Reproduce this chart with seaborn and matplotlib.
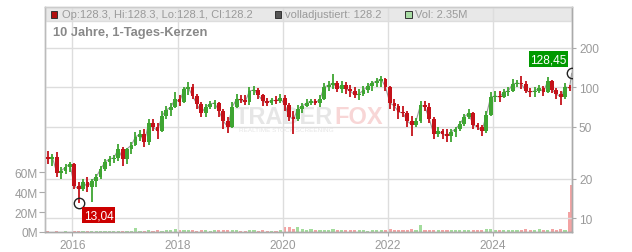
import numpy as np
import pandas as pd
import matplotlib
matplotlib.use("Agg")
import matplotlib.pyplot as plt
import seaborn as sns
from matplotlib.patches import Rectangle
from matplotlib.ticker import FixedLocator, NullLocator, FixedFormatter

# ---------------- data (monthly candles) ----------------
months = [d.strftime("%Y-%m-%d") for d in
          pd.date_range("2015-07-01", periods=120, freq="MS") + pd.Timedelta(days=14)] + ["2025-06-30"]

open_ = [29.4, 28.4, 29.4, 22.2, 23.0, 24.6, 26.0, 17.6, 16.7, 18.9,
         17.3, 19.3, 20.7, 23.8, 26.9, 28.4, 28.9, 33.8, 28.4, 33.8,
         36.3, 41.8, 44.0, 38.2, 53.4, 49.8, 46.4, 60.4, 67.1, 70.7,
         81.4, 77.2, 97.1, 100.5, 85.8, 74.6, 63.7, 70.7, 74.6, 75.9,
         65.9, 55.3, 49.8, 70.7, 81.4, 80.0, 77.2, 93.7, 95.4, 87.3,
         78.6, 75.9, 80.0, 78.6, 82.9, 73.3, 59.3, 57.3, 68.3, 72.0,
         75.9, 78.6, 75.9, 81.4, 100.5, 104.1, 107.8, 97.1, 104.1, 97.1,
         93.7, 87.3, 88.9, 95.4, 102.3, 107.8, 111.7, 115.7, 100.5, 75.9,
         72.0, 64.8, 63.7, 55.3, 51.6, 55.3, 73.3, 70.7, 57.3, 44.0,
         46.4, 44.0, 42.5, 45.6, 48.1, 52.5, 59.3, 63.7, 51.6, 49.8,
         46.4, 61.5, 84.3, 85.8, 84.3, 92.1, 93.7, 106.0, 107.8, 106.0,
         93.7, 92.1, 93.7, 98.8, 92.1, 111.7, 95.4, 88.9, 84.3, 100.5,
         128.3]
high = [32.7, 31.0, 32.1, 24.6, 26.0, 26.9, 26.5, 18.9, 20.0, 20.7,
        20.0, 21.8, 25.1, 28.4, 29.9, 30.4, 36.9, 35.0, 34.5, 38.2,
        45.6, 47.2, 48.1, 57.3, 57.3, 53.4, 65.9, 72.0, 75.9, 92.1,
        87.3, 100.5, 109.8, 106.0, 88.9, 77.2, 74.6, 78.6, 80.0, 77.2,
        68.3, 59.3, 77.2, 88.9, 87.3, 87.3, 100.5, 102.3, 99.5, 88.9,
        82.9, 82.9, 85.8, 88.9, 87.3, 75.9, 65.9, 73.3, 75.9, 81.4,
        81.4, 81.4, 87.3, 107.8, 111.7, 126.3, 111.7, 111.7, 109.0, 104.1,
        100.5, 97.1, 102.3, 107.8, 111.7, 117.7, 122.0, 117.7, 102.0, 81.4,
        74.6, 72.0, 65.9, 60.4, 58.3, 78.6, 78.6, 75.9, 59.3, 49.8,
        48.1, 48.1, 48.1, 49.8, 55.3, 62.6, 68.3, 65.0, 53.4, 51.6,
        65.9, 92.1, 93.7, 93.7, 97.1, 100.5, 115.7, 113.7, 122.0, 111.7,
        98.8, 100.5, 104.1, 102.3, 119.8, 113.0, 98.8, 93.7, 107.8, 104.1,
        128.3]
low = [26.0, 25.1, 20.7, 20.0, 21.8, 22.6, 16.7, 13.04, 16.2, 15.9,
       13.3, 17.3, 20.0, 23.0, 25.1, 26.4, 27.4, 25.1, 26.0, 31.0,
       35.6, 38.9, 35.0, 36.3, 46.4, 40.3, 45.6, 57.3, 60.4, 69.5,
       72.0, 75.9, 87.3, 81.4, 68.3, 59.3, 59.3, 68.3, 68.3, 59.3,
       48.1, 44.8, 48.9, 69.5, 75.9, 73.3, 73.3, 87.3, 81.4, 72.0,
       72.0, 73.3, 74.6, 75.9, 65.9, 55.3, 44.0, 55.3, 63.7, 70.7,
       73.3, 73.3, 70.7, 80.0, 93.7, 97.1, 92.1, 90.5, 88.9, 84.3,
       82.9, 80.0, 85.8, 90.5, 93.7, 100.5, 100.5, 93.7, 68.3, 65.9,
       57.3, 59.3, 49.8, 42.5, 49.8, 53.4, 65.9, 53.4, 40.3, 41.8,
       40.3, 38.2, 38.2, 41.8, 46.4, 50.7, 57.3, 48.1, 47.2, 42.5,
       44.8, 60.5, 77.2, 77.2, 83.0, 85.8, 92.5, 100.5, 97.1, 90.5,
       84.3, 84.3, 90.5, 85.8, 90.5, 90.5, 81.4, 73.3, 81.4, 93.7,
       128.1]
close = [28.4, 29.4, 22.2, 23.0, 24.6, 26.0, 17.6, 16.7, 18.9, 17.3,
         19.3, 20.7, 23.8, 26.9, 28.4, 28.9, 33.8, 28.4, 33.8, 36.3,
         41.8, 44.0, 38.2, 53.4, 49.8, 46.4, 60.4, 67.1, 70.7, 81.4,
         77.2, 97.1, 100.5, 85.8, 74.6, 63.7, 70.7, 74.6, 75.9, 65.9,
         55.3, 49.8, 70.7, 81.4, 80.0, 77.2, 93.7, 95.4, 87.3, 78.6,
         75.9, 80.0, 78.6, 82.9, 73.3, 59.3, 57.3, 68.3, 72.0, 75.9,
         78.6, 75.9, 81.4, 100.5, 104.1, 107.8, 97.1, 104.1, 97.1, 93.7,
         87.3, 88.9, 95.4, 102.3, 107.8, 111.7, 115.7, 100.5, 75.9, 72.0,
         64.8, 63.7, 55.3, 51.6, 55.3, 73.3, 70.7, 57.3, 44.0, 46.4,
         44.0, 42.5, 45.6, 48.1, 52.5, 59.3, 63.7, 51.6, 49.8, 46.4,
         61.5, 84.3, 85.8, 84.3, 92.1, 93.7, 106.0, 107.8, 106.0, 93.7,
         92.1, 93.7, 98.8, 92.1, 111.7, 95.4, 88.9, 84.3, 100.5, 98.8,
         128.2]
volume_m = [0.6, 0.5, 0.8, 0.5, 0.6, 0.5, 0.9, 1.2, 0.8, 0.6, 0.7, 0.6,
            0.8, 1.0, 0.9, 1.2, 1.5, 1.1, 1.3, 1.2, 4.0, 1.5, 1.3, 2.0,
            1.4, 1.6, 1.5, 1.8, 1.6, 3.2, 1.7, 2.2, 1.8, 1.6, 1.5, 1.7,
            1.6, 1.5, 1.7, 1.9, 2.2, 2.5, 2.0, 1.6, 1.5, 1.4, 1.6, 1.7,
            1.5, 1.6, 1.4, 1.5, 1.4, 1.6, 4.6, 5.2, 3.5, 4.8, 2.6, 2.4,
            3.0, 2.0, 1.8, 2.5, 2.2, 3.0, 2.0, 1.8, 1.6, 1.7, 1.6, 2.5,
            1.6, 1.5, 1.7, 1.8, 1.6, 1.9, 2.8, 2.2, 2.0, 1.8, 2.4, 3.5,
            2.2, 7.0, 2.4, 2.0, 1.8, 1.9, 2.0, 2.2, 1.8, 1.9, 2.0, 2.5,
            2.2, 1.8, 1.7, 2.0, 3.2, 2.6, 2.2, 2.0, 1.9, 2.1, 2.0, 1.9,
            2.0, 2.8, 2.3, 2.0, 2.6, 2.2, 2.4, 3.0, 2.5, 2.8, 2.4, 20.0,
            47.0]

year_ticks = [2016, 2018, 2020, 2022, 2024]
price_ticks = [10, 20, 50, 100, 200]
price_tick_labels = ["10", "20", "50", "100", "200"]
vol_ticks = [0, 20, 40, 60]
vol_tick_labels = ["0M", "20M", "40M", "60M"]

title = "10 Jahre, 1-Tages-Kerzen"
header_ohlc = "Op:128.3, Hi:128.3, Lo:128.1, Cl:128.2"
header_adj = "volladjustiert: 128.2"
header_vol = "Vol: 2.35M"
low_label = "13,04"
last_label = "128,45"
last_price = 128.45

# ---------------- figure ----------------
sns.set_style("white")
plt.rcParams["font.family"] = ["Liberation Sans", "DejaVu Sans"]

W, H = 632, 253
fig = plt.figure(figsize=(W / 100, H / 100), dpi=100)
L_, R_, T_, B_ = 45, 572, 8, 233
ax_v = fig.add_axes([L_ / W, 1 - B_ / H, (R_ - L_) / W, (B_ - T_) / H])
ax_p = ax_v.twinx()

dates = pd.to_datetime(months)
xs = np.array([d.year + (d.dayofyear - 0.5) / 365.25 for d in dates])
o = np.array(open_); h = np.array(high); l = np.array(low); c = np.array(close)
up = c >= o
GREEN, RED = "#3ea532", "#c4121a"
cols = np.where(up, GREEN, RED)

# volume on left axis
vcols = np.where(up, "#a3dc9c", "#f3a3a3")
ax_v.bar(xs, volume_m, width=0.06, color=vcols, linewidth=0, zorder=2)
ax_v.set_ylim(0, B_ - T_)
ax_v.set_xlim(2016 - 27.3 / 52.6, 2016 + (R_ - 72.3) / 52.6)

# header band
ax_v.add_patch(Rectangle((0, (B_ - 22) / (B_ - T_)), 1, 1 - (B_ - 22) / (B_ - T_),
                         transform=ax_v.transAxes, color="#e8e8e8", zorder=0, lw=0))

# price on right log axis
ax_p.set_yscale("log")
ax_p.set_ylim(10 ** (1 + (219.3 - B_) / 131), 10 ** (1 + (219.3 - T_) / 131))

sns.lineplot(x=xs, y=c, ax=ax_p, color="#999999", lw=0.8, zorder=2)
ax_p.vlines(xs, l, h, colors=cols, lw=1.3, zorder=3)
body_lo = np.minimum(o, c)
body_h = np.maximum(np.abs(c - o), body_lo * 0.01)
ax_p.bar(xs, body_h, bottom=body_lo, width=0.072, color=cols, linewidth=0, zorder=4)

# grid
for yr in year_ticks:
    ax_p.axvline(yr, color="#dddddd", lw=1, zorder=1)
for pt in price_ticks:
    ax_p.axhline(pt, color="#dddddd", lw=1, zorder=1)
ax_p.axhline(10 ** (1 + (219.3 - 22) / 131), color="#dddddd", lw=1, zorder=1)

# ticks
tick_col = "#9a9a9a"
ax_p.yaxis.set_major_locator(FixedLocator(price_ticks))
ax_p.yaxis.set_major_formatter(FixedFormatter(price_tick_labels))
ax_p.yaxis.set_minor_locator(NullLocator())
ax_p.tick_params(axis="y", which="major", length=3, width=0.8, color="#aaaaaa",
                 labelcolor=tick_col, labelsize=8.6, pad=2)
ax_v.yaxis.set_major_locator(FixedLocator(vol_ticks))
ax_v.yaxis.set_major_formatter(FixedFormatter(vol_tick_labels))
ax_v.tick_params(axis="y", length=4, width=0.8, color="#aaaaaa", labelcolor=tick_col,
                 labelsize=8.6, pad=1, left=True)
ax_v.xaxis.set_major_locator(FixedLocator(year_ticks))
ax_v.xaxis.set_major_formatter(FixedFormatter([str(y) for y in year_ticks]))
ax_v.tick_params(axis="x", length=3, width=0.8, color="#aaaaaa", labelcolor=tick_col,
                 labelsize=8.6, pad=2, bottom=True)
ax_p.set_xlim(ax_v.get_xlim())
ax_p.set_ylabel(""); ax_v.set_ylabel("")

for a in (ax_v, ax_p):
    a.spines["top"].set_color("#cccccc")
    a.spines["left"].set_color("#bbbbbb")
    a.spines["right"].set_color("#aaaaaa")
    a.spines["bottom"].set_color("#aaaaaa")
    for s in a.spines.values():
        s.set_linewidth(1)

# watermark
ax_p.text((235 - L_) / (R_ - L_), (B_ - 117) / (B_ - T_), "TRADER", transform=ax_p.transAxes,
          fontsize=17, fontweight="bold", color="#e6e6e6", ha="left", va="center", zorder=1.5)
ax_p.text((334 - L_) / (R_ - L_), (B_ - 117) / (B_ - T_), "FOX", transform=ax_p.transAxes,
          fontsize=17, fontweight="bold", color="#f8d6d6", ha="left", va="center", zorder=1.5)
ax_p.text((239 - L_) / (R_ - L_), (B_ - 130) / (B_ - T_), "REALTIME STOCK SCREENING",
          transform=ax_p.transAxes, fontsize=4.6, color="#e6e6e6", ha="left", va="center", zorder=1.5)

# header texts
def fx(px): return (px - L_) / (R_ - L_)
def fy(py): return (B_ - py) / (B_ - T_)
hy = fy(15)
for sx, fc in ((50.5, "#b01010"), (274.5, "#555555"), (405, "#a8dca4")):
    ax_p.add_patch(Rectangle((fx(sx), fy(18.5)), 6.5 / (R_ - L_), 6.5 / (B_ - T_),
                             transform=ax_p.transAxes, facecolor=fc, edgecolor="#333333",
                             lw=0.7, zorder=6))
ax_p.text(fx(61.5), hy, header_ohlc, transform=ax_p.transAxes, fontsize=8, color="#9a9a9a",
          ha="left", va="center", zorder=6)
ax_p.text(fx(285), hy, header_adj, transform=ax_p.transAxes, fontsize=8, color="#9a9a9a",
          ha="left", va="center", zorder=6)
ax_p.text(fx(415), hy, header_vol, transform=ax_p.transAxes, fontsize=8, color="#9a9a9a",
          ha="left", va="center", zorder=6)
ax_p.text(fx(53), fy(33), title, transform=ax_p.transAxes, fontsize=9.3, fontweight="bold",
          color="#888888", ha="left", va="center", zorder=6)

# low / last markers
imin = int(np.argmin(l))
ax_p.plot([xs[imin]], [l[imin]], marker="o", ms=7.5, mfc="none", mec="#222222", mew=1, zorder=7)
ax_p.annotate(low_label, (xs[imin], l[imin]), xytext=(5, -6), textcoords="offset pixels",
              ha="left", va="top", fontsize=8.6, color="white", zorder=8,
              bbox=dict(boxstyle="square,pad=0.15", fc="#cc0000", ec="none"))
ax_p.plot([xs[-1]], [last_price], marker="o", ms=7.5, mfc="none", mec="#222222", mew=1, zorder=7)
ax_p.annotate(last_label, (xs[-1], last_price), xytext=(-5, 8), textcoords="offset pixels",
              ha="right", va="bottom", fontsize=8.6, color="white", zorder=8,
              bbox=dict(boxstyle="square,pad=0.15", fc="#009900", ec="none"))

fig.savefig("out.png", dpi=100)
